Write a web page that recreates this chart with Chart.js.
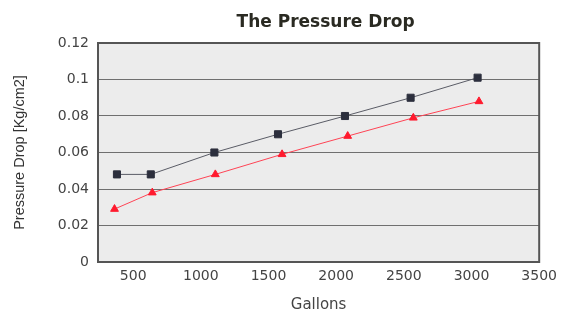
<!DOCTYPE html>
<html>
<head>
<meta charset="utf-8">
<title>The Pressure Drop</title>
<script src="https://cdn.jsdelivr.net/npm/chart.js@4"></script>
<style>
  html, body { margin: 0; padding: 0; background: #fff; }
  #wrap { width: 563px; height: 314px; }
</style>
</head>
<body>
<div id="wrap"><canvas id="pressureChart" width="563" height="314"></canvas></div>
<script>
// values
const squareGallons = [380, 630, 1100, 1570, 2065, 2550, 3045];
const squareDrop = [0.048, 0.048, 0.060, 0.070, 0.080, 0.090, 0.101];
const triangleGallons = [362, 641, 1107, 1600, 2085, 2570, 3055];
const triangleDrop = [0.029, 0.038, 0.048, 0.059, 0.069, 0.079, 0.088];
const xTicks = [500, 1000, 1500, 2000, 2500, 3000, 3500];
const yTicks = [0, 0.02, 0.04, 0.06, 0.08, 0.1, 0.12];

const chartTitle = 'The Pressure Drop';
const tickFont = { family: "'DejaVu Sans', sans-serif", size: 14 };

// grey plot background, dark frame, and the title centred a bit right of the plot
const plotFrame = {
  id: 'plotFrame',
  beforeDraw(chart) {
    const { ctx, chartArea: a } = chart;
    ctx.save();
    ctx.fillStyle = '#ececec';
    ctx.fillRect(a.left, a.top, a.right - a.left, a.bottom - a.top);
    ctx.restore();
  },
  afterDatasetsDraw(chart) {
    const { ctx, chartArea: a } = chart;
    ctx.save();
    ctx.strokeStyle = '#555';
    ctx.lineWidth = 2;
    ctx.strokeRect(a.left, a.top, a.right - a.left, a.bottom - a.top);
    ctx.restore();
  },
  afterDraw(chart) {
    const { ctx, chartArea: a } = chart;
    ctx.save();
    ctx.fillStyle = '#2a2a22';
    ctx.font = "bold 17px 'DejaVu Sans', sans-serif";
    ctx.textAlign = 'center';
    ctx.textBaseline = 'middle';
    ctx.fillText(chartTitle, (a.left + a.right) / 2 + 7, 23);
    ctx.restore();
  }
};

function toPoints(xs, ys) {
  return xs.map((x, i) => ({ x: x, y: ys[i] }));
}

new Chart(document.getElementById('pressureChart'), {
  type: 'line',
  data: {
    datasets: [{
      label: 'Square',
      data: toPoints(squareGallons, squareDrop),
      borderColor: '#5a5c66',
      borderWidth: 1,
      pointStyle: 'rect',
      pointRadius: 5,
      pointBackgroundColor: '#2c2f3d',
      pointBorderColor: '#2c2f3d',
      pointBorderWidth: 1,
      tension: 0
    }, {
      label: 'Triangle',
      data: toPoints(triangleGallons, triangleDrop),
      borderColor: '#ff4455',
      borderWidth: 1,
      pointStyle: 'triangle',
      pointRadius: 4.5,
      pointBackgroundColor: '#ff1a2e',
      pointBorderColor: '#ff1a2e',
      pointBorderWidth: 1,
      tension: 0
    }]
  },
  options: {
    responsive: false,
    animation: false,
    layout: { padding: { top: 43, right: 22, bottom: 0, left: 0 } },
    plugins: {
      legend: { display: false },
      tooltip: { enabled: false },
      title: { display: false }
    },
    scales: {
      x: {
        type: 'linear',
        min: 240,
        max: 3500,
        afterBuildTicks: axis => { axis.ticks = xTicks.map(v => ({ value: v })); },
        afterFit: axis => { axis.height = 52; },
        grid: { display: false, drawTicks: false },
        border: { display: false },
        ticks: {
          color: '#444',
          font: tickFont,
          padding: 6,
          maxRotation: 0,
          callback: v => String(v)
        },
        title: {
          display: true,
          text: 'Gallons',
          color: '#444',
          font: { family: "'DejaVu Sans', sans-serif", size: 15 },
          padding: { top: 0, bottom: 0 }
        }
      },
      y: {
        min: 0,
        max: 0.12,
        afterBuildTicks: axis => { axis.ticks = yTicks.map(v => ({ value: v })); },
        afterFit: axis => { axis.width = 98; },
        grid: { color: '#6f6f6f', lineWidth: 1, drawTicks: false },
        border: { display: false },
        ticks: {
          color: '#444',
          font: tickFont,
          padding: 9,
          callback: v => String(+v.toFixed(2))
        },
        title: {
          display: true,
          text: 'Pressure Drop [Kg/cm2]',
          color: '#333',
          font: { family: "'Liberation Sans Narrow', 'Liberation Sans', sans-serif", size: 14.5 },
          padding: { top: 11, bottom: 0 }
        }
      }
    }
  },
  plugins: [plotFrame]
});
</script>
</body>
</html>
